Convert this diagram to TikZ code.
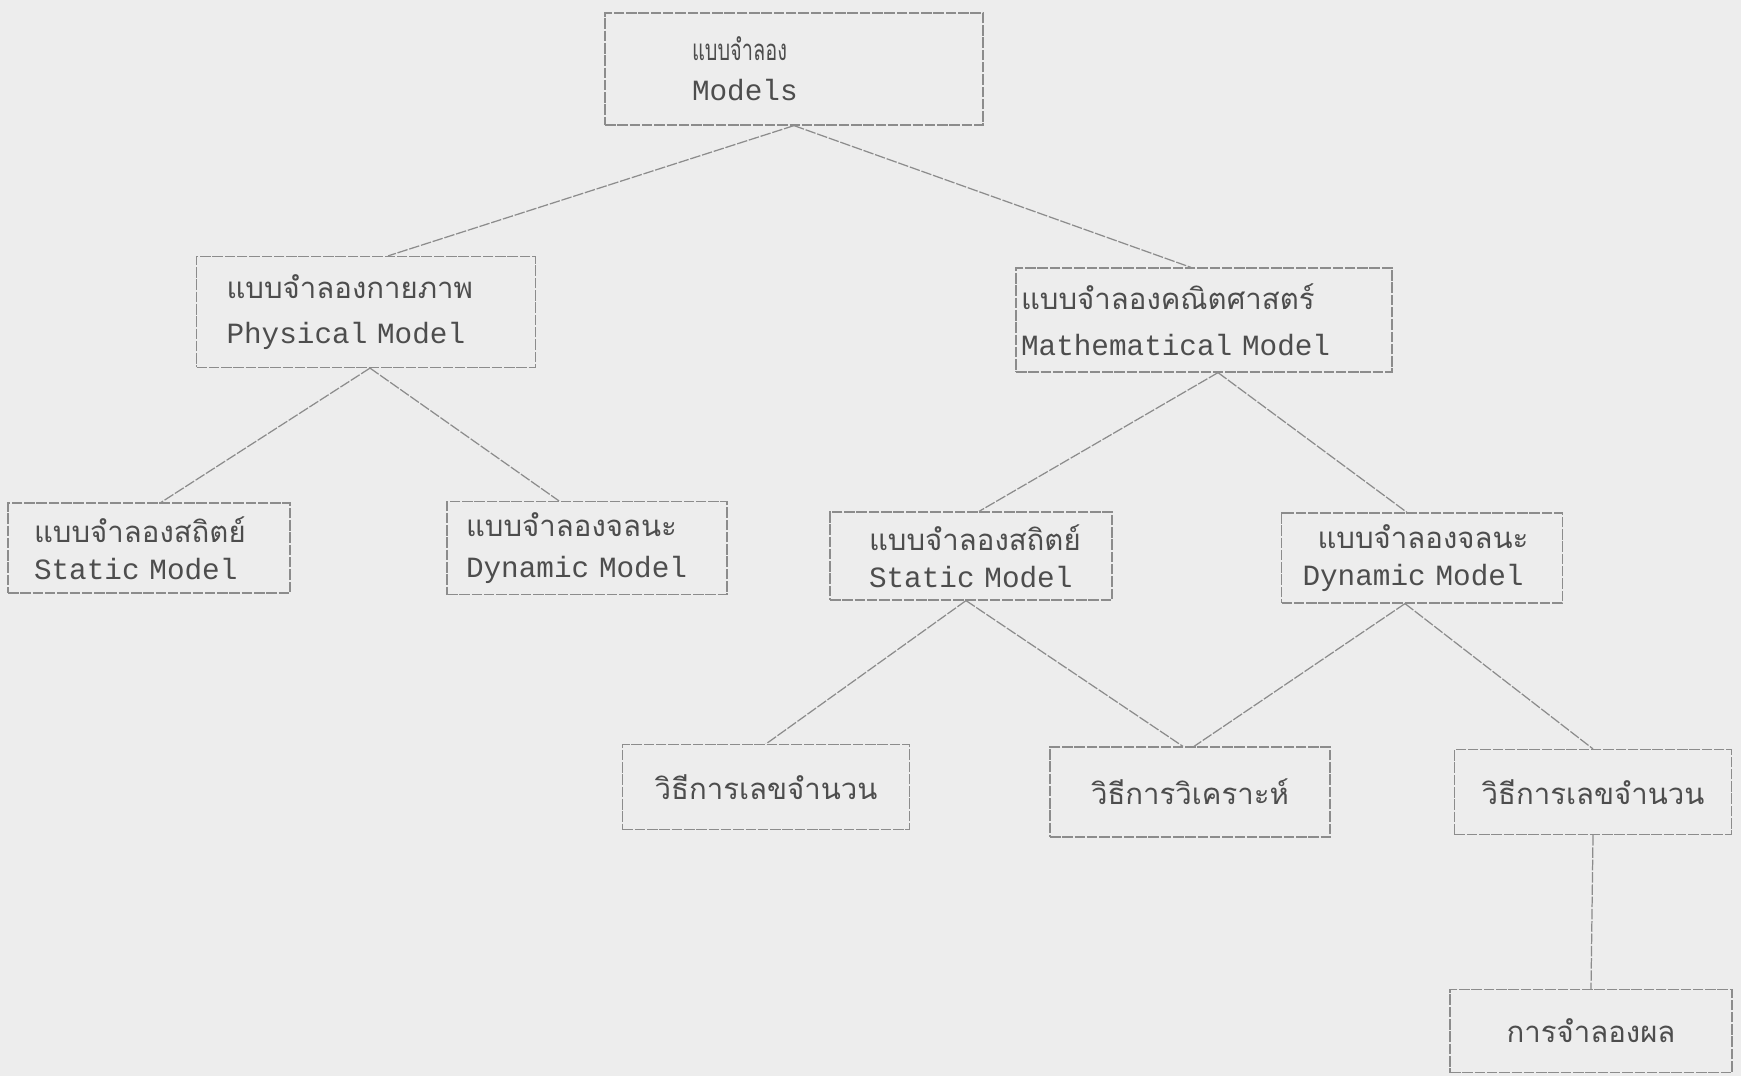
\documentclass[tikz,border=0pt]{standalone}
\usepackage{fontspec}
\setmonofont{Liberation Mono}
\newfontfamily\thaifont[Script=Thai]{Loma}
\newfontfamily\thainarrow[Script=Thai,FakeStretch=0.68]{Loma}
\usepackage{tikz}
\usetikzlibrary{calc}
\definecolor{Paper}{HTML}{EDEDED}
\definecolor{Ink}{HTML}{4D4D4D}
\definecolor{Rule}{HTML}{8C8C8C}

\begin{document}
\begin{tikzpicture}[x=0.02cm,y=-0.02cm,
    model/.style={rectangle,draw=Rule,dash pattern=on 6pt off 1pt,line width=0.7pt,align=left,inner ysep=0pt,text=Ink,font=\fontsize{16.7}{20}\selectfont\ttfamily},
    method/.style={model,align=center,minimum height=1.7cm},
    link/.style={draw=Rule,line width=0.7pt,dash pattern=on 6pt off 1pt}
]
\fill[Paper] (0,0) rectangle (1741,1076);
\useasboundingbox (0,0) rectangle (1741,1076);

% top level
\node[model,inner xsep=1.74cm,text width=4.08cm,minimum height=2.24cm,font=\fontsize{16.7}{23}\selectfont\ttfamily] (models) at (794,69) {{\thainarrow แบบจำลอง}\\Models};

% physical / mathematical
\node[model,inner xsep=0.6cm,text width=5.58cm,minimum height=2.22cm,font=\fontsize{16.7}{26}\selectfont\ttfamily] (phys) at (366,312) {{\thaifont แบบจำลองกายภาพ}\\Physical Model};
\node[model,inner xsep=0.1cm,text width=7.32cm,minimum height=2.08cm,font=\fontsize{16.7}{26}\selectfont\ttfamily] (math) at (1204,320) {{\thaifont แบบจำลองคณิตศาสตร์}\\Mathematical Model};

% static / dynamic
\node[model,inner xsep=0.52cm,text width=4.6cm,minimum height=1.8cm,font=\fontsize{16.7}{21}\selectfont\ttfamily] (statL) at (149,548) {{\thaifont แบบจำลองสถิตย์}\\Static Model};
\node[model,inner xsep=0.38cm,text width=4.84cm,minimum height=1.86cm,font=\fontsize{16.7}{23}\selectfont\ttfamily] (dynL) at (587,548) {{\thaifont แบบจำลองจลนะ}\\Dynamic Model};
\node[model,inner xsep=0.78cm,text width=4.08cm,minimum height=1.76cm,font=\fontsize{16.7}{21}\selectfont\ttfamily] (statR) at (971,556) {{\thaifont แบบจำลองสถิตย์}\\Static Model};
\node[model,inner xsep=0.42cm,text width=4.78cm,minimum height=1.8cm,font=\fontsize{16.7}{21}\selectfont\ttfamily] (dynR) at (1422,558) {\hspace*{0.3cm}{\thaifont แบบจำลองจลนะ}\\Dynamic Model};

% methods
\node[method,minimum width=5.74cm] (numL) at (766,787) {\thaifont วิธีการเลขจำนวน};
\node[method,minimum width=5.6cm,minimum height=1.8cm] (anal) at (1190,792) {\thaifont วิธีการวิเคราะห์};
\node[method,minimum width=5.54cm] (numR) at (1593,792) {\thaifont วิธีการเลขจำนวน};
\node[method,minimum width=5.64cm,minimum height=1.66cm] (sim) at (1591,1031) {\thaifont การจำลองผล};

% links
\draw[link] (models.south) -- ($(phys.north)+(22,0)$);
\draw[link] (models.south) -- ($(math.north)+(-13,0)$);
\draw[link] ($(phys.south)+(4,0)$) -- ($(statL.north)+(12,0)$);
\draw[link] ($(phys.south)+(4,0)$) -- ($(dynL.north)+(-28,0)$);
\draw[link] ($(math.south)+(14,0)$) -- ($(statR.north)+(8,0)$);
\draw[link] ($(math.south)+(14,0)$) -- ($(dynR.north)+(-15,0)$);
\draw[link] ($(statR.south)+(-5,0)$) -- (numL.north);
\draw[link] ($(statR.south)+(-5,0)$) -- ($(anal.north)+(-7,0)$);
\draw[link] ($(dynR.south)+(-17,0)$) -- ($(anal.north)+(4,0)$);
\draw[link] ($(dynR.south)+(-17,0)$) -- (numR.north);
\draw[link] (numR.south) -- (sim.north);
\end{tikzpicture}
\end{document}
